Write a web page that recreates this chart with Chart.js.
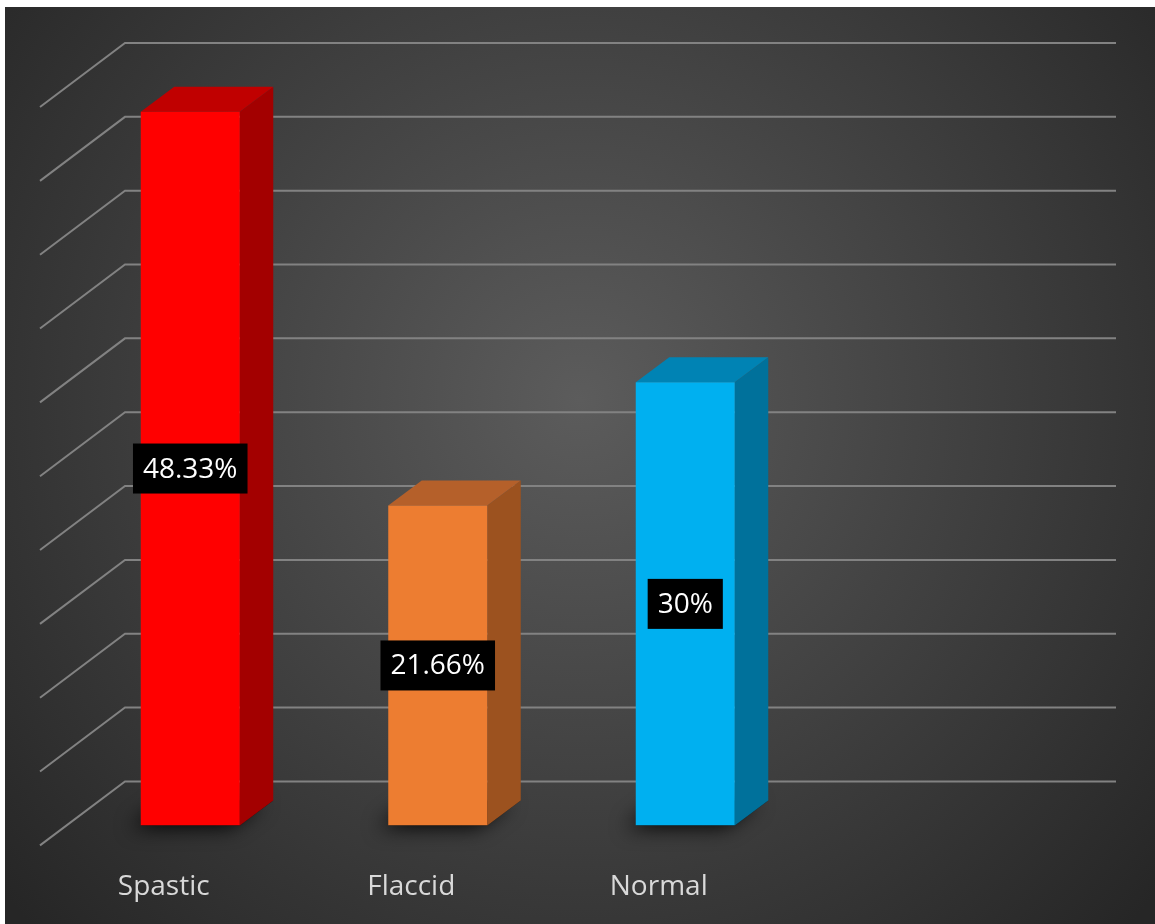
<!DOCTYPE html>
<html lang="en">
<head>
  <meta charset="UTF-8">
  <title>Paralysis type</title>
  <script src="https://cdn.jsdelivr.net/npm/chart.js"></script>
  <style>
    body { margin: 0; background: #fff; }
    canvas { display: block; }
  </style>
</head>
<body>
  <canvas id="chart" width="1155" height="924"></canvas>
  <script>

const categories = ['Spastic', 'Flaccid', 'Normal'];
const percentValues = [48.33, 21.66, 30];
const valueLabels = ['48.33%', '21.66%', '30%'];
const frontColors = ['#FF0000', '#ED7D31', '#00B0F0'];
const topColors = ['#C00000', '#B5602A', '#0083B4'];
const sideColors = ['#A30000', '#9C521F', '#00719B'];

// oblique 3d offsets, relative to the bars' front plane
const depth = { dx: 33.5, dy: -25 };   // bar depth
const front = { dx: -26.5, dy: 20 };   // front edge of the floor
const back = { dx: 58.5, dy: -44 };    // back wall
const wallRight = 1116;

const background3d = {
  id: 'background3d',
  beforeDraw(chart) {
    const ctx = chart.ctx;
    ctx.save();
    ctx.fillStyle = '#ffffff';
    ctx.fillRect(0, 0, chart.width, chart.height);
    const g = ctx.createRadialGradient(580, 400, 0, 580, 400, 760);
    g.addColorStop(0, '#5c5c5c');
    g.addColorStop(1, '#262626');
    ctx.fillStyle = g;
    ctx.fillRect(5, 7, chart.width - 5, chart.height - 7);

    // grid: back wall lines plus the diagonals on the left side wall
    const y = chart.scales.y;
    const left = chart.chartArea.left;
    ctx.strokeStyle = '#828282';
    ctx.lineWidth = 2;
    y.ticks.forEach(t => {
      const py = y.getPixelForValue(t.value);
      ctx.beginPath();
      ctx.moveTo(left + front.dx, py + front.dy);
      ctx.lineTo(left + back.dx, py + back.dy);
      ctx.lineTo(wallRight, py + back.dy);
      ctx.stroke();
    });
    ctx.restore();
  },
  beforeDatasetsDraw(chart) {
    const ctx = chart.ctx;
    const bars = chart.getDatasetMeta(0).data;
    ctx.save();
    // soft shadow round each bar's footprint
    bars.forEach(bar => {
      const x0 = bar.x - bar.width / 2, x1 = bar.x + bar.width / 2, b = bar.base;
      ctx.save();
      ctx.shadowColor = 'rgba(0,0,0,0.95)';
      ctx.shadowBlur = 20;
      ctx.shadowOffsetX = -10;
      ctx.shadowOffsetY = 2;
      ctx.fillStyle = '#111';
      ctx.beginPath();
      ctx.moveTo(x0, b);
      ctx.lineTo(x1, b);
      ctx.lineTo(x1 + depth.dx, b + depth.dy);
      ctx.lineTo(x0 + depth.dx, b + depth.dy);
      ctx.closePath();
      ctx.fill();
      ctx.restore();
    });
    // side and top faces
    bars.forEach((bar, i) => {
      const x0 = bar.x - bar.width / 2, x1 = bar.x + bar.width / 2;
      const top = bar.y, b = bar.base;
      ctx.fillStyle = sideColors[i];
      ctx.beginPath();
      ctx.moveTo(x1, b);
      ctx.lineTo(x1 + depth.dx, b + depth.dy);
      ctx.lineTo(x1 + depth.dx, top + depth.dy);
      ctx.lineTo(x1, top);
      ctx.closePath();
      ctx.fill();
      ctx.fillStyle = topColors[i];
      ctx.beginPath();
      ctx.moveTo(x0, top);
      ctx.lineTo(x1, top);
      ctx.lineTo(x1 + depth.dx, top + depth.dy);
      ctx.lineTo(x0 + depth.dx, top + depth.dy);
      ctx.closePath();
      ctx.fill();
    });
    ctx.restore();
  },
  afterDatasetsDraw(chart) {
    const ctx = chart.ctx;
    const bars = chart.getDatasetMeta(0).data;
    ctx.save();
    ctx.font = '28px "Open Sans"';
    ctx.textAlign = 'center';
    ctx.textBaseline = 'middle';
    bars.forEach((bar, i) => {
      const cy = (bar.y + bar.base) / 2;
      const w = ctx.measureText(valueLabels[i]).width + 20;
      const h = 50;
      ctx.fillStyle = '#000';
      ctx.fillRect(bar.x - w / 2, cy - h / 2, w, h);
      ctx.fillStyle = '#fff';
      ctx.fillText(valueLabels[i], bar.x, cy + 1);
    });
    ctx.restore();
  }
};

new Chart(document.getElementById('chart'), {
  type: 'bar',
  data: {
    labels: categories,
    datasets: [{
      data: percentValues,
      backgroundColor: frontColors,
      borderWidth: 0,
      barPercentage: 0.4,
      categoryPercentage: 1
    }]
  },
  options: {
    responsive: false,
    animation: false,
    layout: { padding: { left: 66.5, right: 346, top: 87, bottom: -25 } },
    plugins: { legend: { display: false }, tooltip: { enabled: false } },
    scales: {
      y: { display: false, min: 0, max: 50, ticks: { stepSize: 5 } },
      x: {
        grid: { display: false, drawTicks: false },
        border: { display: false },
        ticks: {
          color: '#d9d9d9',
          font: { family: 'Open Sans', size: 28 },
          labelOffset: -26.5,
          padding: 45
        }
      }
    }
  },
  plugins: [background3d]
});

  </script>
</body>
</html>
